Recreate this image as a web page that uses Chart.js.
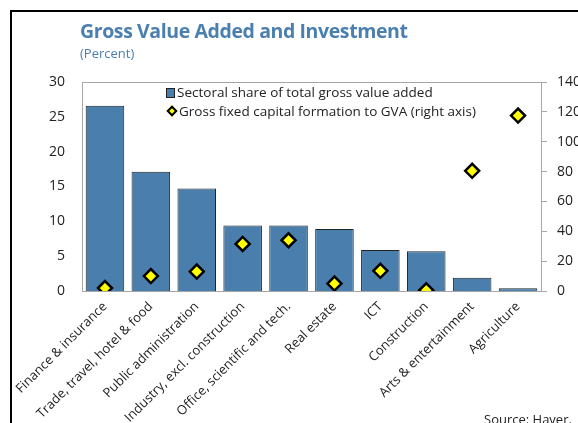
<!DOCTYPE html>
<html>
<head>
<meta charset="utf-8">
<script src="https://cdn.jsdelivr.net/npm/chart.js@4/dist/chart.umd.min.js"></script>
<style>
  html, body { margin: 0; padding: 0; background: #fff; overflow: hidden; width: 578px; height: 423px; }
  #frame { position: absolute; left: 10px; top: 10px; width: 640px; height: 460px; border: 2px solid #000; box-sizing: border-box; }
  #chart { position: absolute; left: 0; top: 0; }
  .title { position: absolute; left: 80px; top: 17px; font: bold 19.5px "Open Sans", sans-serif; color: #4a7fb0; letter-spacing: -0.4px; }
  .sub { position: absolute; left: 80px; top: 44px; font: 13px "Open Sans", sans-serif; color: #4a7fb0; }
  .legend { position: absolute; left: 166px; top: 83px; font: 13.5px "Open Sans", sans-serif; color: #222; line-height: 18.5px; }
  .legend div { white-space: nowrap; }
  .sq { display: inline-block; width: 7px; height: 8px; background: #4a7fad; border: 1px solid #222; margin-right: 2px; vertical-align: -1px; }
  .dm { display: inline-block; width: 4px; height: 4px; background: #ffff00; border: 2px solid #000; transform: rotate(45deg); margin: 0 3px 0 2px; vertical-align: 1px; }
  .source { position: absolute; left: 484px; top: 410px; font: 13px "Open Sans", sans-serif; color: #222; }
</style>
</head>
<body>
<div id="frame"></div>
<canvas id="chart" width="620" height="423"></canvas>
<div class="title">Gross Value Added and Investment</div>
<div class="sub">(Percent)</div>
<div class="legend">
  <div><span class="sq"></span>Sectoral share of total gross value added</div>
  <div><span class="dm"></span>Gross fixed capital formation to GVA (right axis)</div>
</div>
<div class="source">Source: Haver.</div>
<script>
var sectors = ['Finance & insurance', 'Trade, travel, hotel & food', 'Public administration',
  'Industry, excl. construction', 'Office, scientific and tech.', 'Real estate', 'ICT',
  'Construction', 'Arts & entertainment', 'Agriculture'];
var gvaShare = [26.6, 17.1, 14.7, 9.4, 9.4, 8.9, 5.9, 5.7, 1.9, 0.4];
var gfcfToGva = [2, 10, 13, 31.5, 34, 5, 13.5, 0.5, 80.5, 117.5];
var leftTicks = [0, 5, 10, 15, 20, 25, 30];
var rightTicks = [0, 20, 40, 60, 80, 100, 120, 140];

var gray = '#a6a6a6';
var tickFont = { family: 'Open Sans', size: 14 };

// gray box round the plot
var frameBox = {
  id: 'frameBox',
  afterDraw: function(chart) {
    var a = chart.chartArea, ctx = chart.ctx;
    ctx.save();
    ctx.strokeStyle = gray;
    ctx.lineWidth = 1;
    ctx.strokeRect(a.left + 0.5, a.top + 0.5, a.right - a.left, a.bottom - a.top);
    ctx.restore();
  }
};

var ctx = document.getElementById('chart');
var myChart = new Chart(ctx, {
  data: {
    labels: sectors,
    datasets: [{
      type: 'scatter',
      label: 'Gross fixed capital formation to GVA (right axis)',
      data: gfcfToGva,
      yAxisID: 'y2',
      pointStyle: 'rectRot',
      pointRadius: 7,
      backgroundColor: '#ffff00',
      borderColor: '#000',
      borderWidth: 2.5,
      showLine: false
    }, {
      type: 'bar',
      label: 'Sectoral share of total gross value added',
      data: gvaShare,
      yAxisID: 'y',
      backgroundColor: '#4a7fad',
      borderColor: '#222',
      borderWidth: 1,
      categoryPercentage: 0.84,
      barPercentage: 1
    }]
  },
  options: {
    responsive: false,
    devicePixelRatio: 1,
    animation: false,
    layout: { padding: { top: 82, left: 0, right: 0, bottom: 0 } },
    plugins: {
      legend: { display: false },
      tooltip: { enabled: false }
    },
    scales: {
      x: {
        type: 'category',
        offset: true,
        grid: { display: false },
        border: { color: gray },
        ticks: {
          color: '#222',
          font: { family: 'Open Sans', size: 13 },
          maxRotation: 45,
          minRotation: 45,
          padding: 0,
          autoSkip: false
        },
        afterFit: function(s) { s.height = 423 - 82 - 209; }
      },
      y: {
        position: 'left',
        min: 0,
        max: 30,
        afterBuildTicks: function(s) { s.ticks = leftTicks.map(function(v) { return { value: v }; }); },
        grid: { display: false, drawTicks: false },
        border: { color: gray },
        ticks: { color: '#222', font: tickFont, padding: 17 },
        afterFit: function(s) { s.width = 82; }
      },
      y2: {
        position: 'right',
        min: 0,
        max: 140,
        afterBuildTicks: function(s) { s.ticks = rightTicks.map(function(v) { return { value: v }; }); },
        grid: { drawOnChartArea: false, drawTicks: true, tickLength: 6, color: gray },
        border: { color: gray },
        ticks: { color: '#222', font: tickFont, padding: 10 },
        afterFit: function(s) { s.width = 620 - 541; }
      }
    }
  },
  plugins: [frameBox]
});
</script>
</body>
</html>
